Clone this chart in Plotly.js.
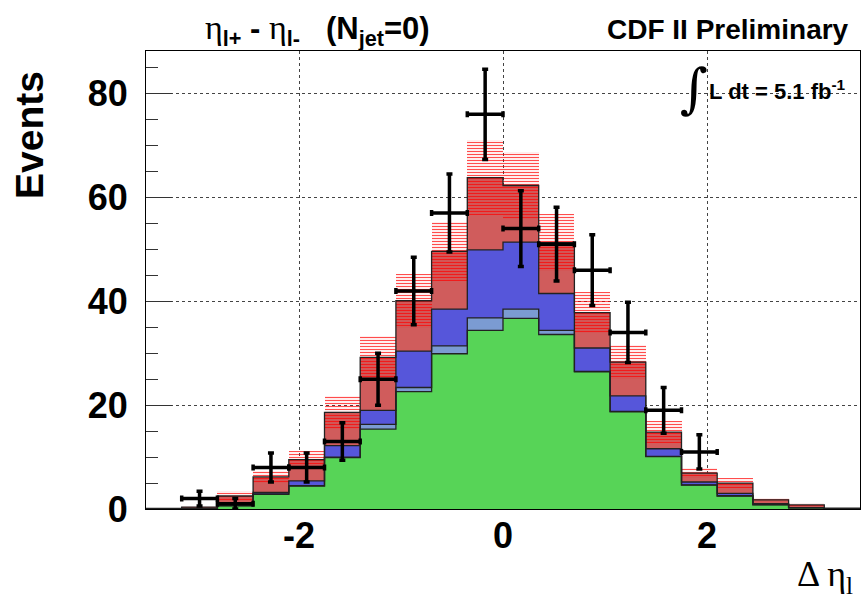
<!DOCTYPE html>
<html>
<head>
<meta charset="utf-8">
<script src="https://cdn.plot.ly/plotly-3.0.1.min.js"></script>
<style>html,body{margin:0;padding:0;background:#fff;}#chart{width:863px;height:598px;}</style>
</head>
<body>
<div id="chart"></div>
<script>
// Bin edges of the Δη histogram (20 bins)
const binEdges = [-3.5,-3.15,-2.8,-2.45,-2.1,-1.75,-1.4,-1.05,-0.7,-0.35,0,0.35,0.7,1.05,1.4,1.75,2.1,2.45,2.8,3.15,3.5];

// Stacked expectation components (per-bin contributions, bottom to top)
const greenVals  = [0, 0.05, 0.6, 2.8, 4.4, 9.9, 15.4, 22.6, 29.9, 34.4, 36.7, 33.6, 26.4, 18.7, 10.1, 4.6, 2.5, 0.8, 0.2, 0.05];
const lightBlueVals = [0, 0, 0.05, 0.1, 0.1, 0.1, 0.9, 0.8, 1.5, 2.4, 1.8, 0.8, 0.1, 0.1, 0.05, 0.05, 0.05, 0.05, 0, 0];
const blueVals   = [0, 0.05, 0.2, 0.3, 0.9, 2.2, 2.7, 7.0, 7.1, 13.1, 12.9, 7.1, 4.5, 3.0, 1.45, 0.55, 0.45, 0.2, 0.05, 0];
const salmonVals = [0.1, 0.25, 1.65, 3.0, 4.1, 6.4, 10.2, 9.7, 11.1, 13.9, 10.9, 9.8, 6.8, 6.5, 3.2, 1.7, 2.0, 0.7, 0.55, 0.1];
// Uncertainty on the total expectation (hatched band, ±)
const bandErr    = [0.05, 0.15, 0.9, 1.2, 1.6, 3.2, 4.1, 5.2, 5.7, 7.2, 6.5, 5.5, 3.9, 3.2, 2.1, 1.0, 0.95, 0.45, 0.4, 0.05];

// Observed data and its errors
const dataVals = [null, 2, 1, 8, 8, 13, 25, 42, 57, 76, 54, 51, 46, 34, 19, 11, null, null, null, null];
const dataErr  = [null, 1.4, 1.0, 2.8, 2.8, 3.6, 5.0, 6.5, 7.5, 8.7, 7.3, 7.1, 6.8, 5.8, 4.4, 3.3, null, null, null, null];

// Tick values
const xTicks = [-2, 0, 2];
const yTicks = [0, 20, 40, 60, 80];

const nb = binEdges.length - 1;
const centers = [], halfW = [], widths = [];
for (let i = 0; i < nb; i++) {
  centers.push((binEdges[i] + binEdges[i+1]) / 2);
  halfW.push((binEdges[i+1] - binEdges[i]) / 2);
  widths.push(binEdges[i+1] - binEdges[i]);
}
const lvl1 = greenVals.slice();
const lvl2 = lvl1.map((v,i)=>v + lightBlueVals[i]);
const lvl3 = lvl2.map((v,i)=>v + blueVals[i]);
const lvl4 = lvl3.map((v,i)=>v + salmonVals[i]);

const colGreen = '#57d457', colLB = '#7b9bd2', colBlue = '#5656da', colSalmon = '#d05c5c';

function fillBar(levels, color) {
  return {type:'bar', x:centers, y:levels, width:widths, marker:{color:color, line:{width:0}},
          hoverinfo:'skip', showlegend:false};
}
function outline(levels) {
  return {type:'scatter', mode:'lines', x:binEdges, y:levels.concat([levels[levels.length-1]]),
          line:{shape:'hv', color:'#222', width:1.3}, hoverinfo:'skip', showlegend:false};
}

const traces = [
  fillBar(lvl4, colSalmon),
  fillBar(lvl3, colBlue),
  fillBar(lvl2, colLB),
  fillBar(lvl1, colGreen),
  {type:'bar', x:centers, base:lvl4.map((v,i)=>v - bandErr[i]), y:bandErr.map(e=>2*e), width:widths,
   marker:{color:'rgba(0,0,0,0)', line:{width:0},
           pattern:{shape:'-', fgcolor:'red', bgcolor:'rgba(0,0,0,0)', size:3, solidity:0.4, fgopacity:0.7}},
   hoverinfo:'skip', showlegend:false},
  outline(lvl4), outline(lvl3), outline(lvl2), outline(lvl1)
];

const dX = [], dY = [], dE = [], dH = [];
dataVals.forEach((v,i)=>{ if (v !== null) { dX.push(centers[i]); dY.push(v); dE.push(dataErr[i]); dH.push(halfW[i]); } });
traces.push({type:'scatter', mode:'markers', x:dX, y:dY,
  marker:{color:'black', size:4},
  error_y:{type:'data', array:dE, color:'black', thickness:3.5, width:3},
  error_x:{type:'data', array:dH, color:'black', thickness:3.5, width:3},
  showlegend:false, hoverinfo:'skip'});

const tickFont = {family:'Liberation Sans, Arial, sans-serif', size:36, color:'black', weight:'bold'};
const L = 146, R = 860, T = 51, B = 509;
const px = x => (x - L) / (R - L);
const py = y => (B - y) / (B - T);

const layout = {
  width:863, height:598,
  margin:{l:L, r:863-R, t:T, b:598-B, pad:0},
  paper_bgcolor:'white', plot_bgcolor:'white',
  barmode:'overlay', bargap:0,
  showlegend:false,
  xaxis:{range:[-3.5,3.5], tickvals:xTicks, ticktext:xTicks.map(String), ticks:'',
         showgrid:true, gridcolor:'#444', griddash:'3px,3px', gridwidth:1,
         zeroline:false, showline:true, linecolor:'black', linewidth:1, mirror:true,
         tickfont:tickFont, ticklabelstandoff:-5},
  yaxis:{range:[0,88.2], tickvals:yTicks, ticktext:yTicks.map(String), ticks:'inside', ticklen:26, tickwidth:1, tickcolor:'#333',
         minor:{dtick:5, ticks:'inside', ticklen:12, tickwidth:1, tickcolor:'#333', showgrid:false},
         showgrid:true, gridcolor:'#444', griddash:'3px,3px', gridwidth:1,
         zeroline:false, showline:true, linecolor:'black', linewidth:1, mirror:true,
         tickfont:tickFont, ticklabelstandoff:10},
  annotations:[
    {xref:'paper', yref:'paper', x:px(29), y:py(135), text:'Events', textangle:-90, showarrow:false,
     xanchor:'center', yanchor:'middle',
     font:{family:'Liberation Sans, Arial, sans-serif', size:39, weight:'bold', color:'black'}},
    {xref:'paper', yref:'paper', x:px(203), y:py(30), showarrow:false, xanchor:'left', yanchor:'middle',
     text:'<span style="font-family:Liberation Serif;font-weight:normal;font-size:34px">η</span><sub>l+</sub> - <span style="font-family:Liberation Serif;font-weight:normal;font-size:34px">η</span><sub>l-</sub>&nbsp;&nbsp;&nbsp;(N<sub>jet</sub>=0)',
     font:{family:'Liberation Sans, Arial, sans-serif', size:31, weight:'bold', color:'black'}},
    {xref:'paper', yref:'paper', x:px(851), y:py(29), showarrow:false, xanchor:'right', yanchor:'middle',
     text:'CDF II Preliminary',
     font:{family:'Liberation Sans, Arial, sans-serif', size:28, weight:'bold', color:'black'}},
    {xref:'paper', yref:'paper', x:px(694), y:py(89), showarrow:false, xanchor:'center', yanchor:'middle',
     text:'∫', font:{family:'DejaVu Serif, serif', size:54, color:'black'}},
    {xref:'paper', yref:'paper', x:px(707), y:py(90), showarrow:false, xanchor:'left', yanchor:'middle',
     text:'L dt = 5.1 fb<sup>-1</sup>',
     font:{family:'Liberation Sans, Arial, sans-serif', size:22, weight:'bold', color:'black'}},
    {xref:'paper', yref:'paper', x:px(795), y:py(576), showarrow:false, xanchor:'left', yanchor:'middle',
     text:'Δ η<sub>l</sub>',
     font:{family:'Liberation Serif, Times New Roman, serif', size:36, color:'black'}}
  ]
};

Plotly.newPlot('chart', traces, layout, {displayModeBar:false, staticPlot:true});
</script>
</body>
</html>
